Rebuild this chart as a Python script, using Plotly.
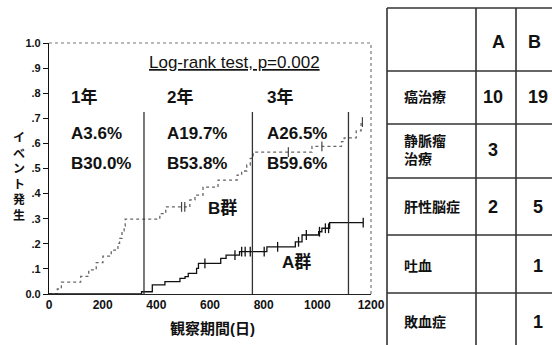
import numpy as np
import plotly.graph_objects as go

# ---- Kaplan-Meier style cumulative event curves (days, cumulative incidence) ----
b_times = [0, 31, 46, 118, 148, 176, 201, 232, 257, 263, 272, 280, 284, 413, 435,
           525, 544, 574, 630, 701, 718, 737, 750, 761, 980, 1090, 1100, 1145, 1163]
b_cum = [0, .02, .047, .07, .096, .125, .151, .175, .202, .222, .252, .271, .298, .32, .347,
         .375, .394, .426, .454, .474, .49, .514, .54, .565, .588, .607, .622, .65, .685]
b_end = 1168
b_censor = [494, 506, 892, 1017, 1168]

a_times = [0, 345, 385, 432, 488, 507, 519, 550, 557, 640, 660, 710, 812, 918, 943, 1005, 1017, 1046]
a_cum = [0, .009, .036, .049, .062, .069, .082, .102, .122, .142, .155, .169, .188, .208, .235, .248, .262, .284]
a_end = 1171
a_censor = [581, 693, 718, 731, 750, 802, 852, 930, 959, 1008, 1030, 1042, 1171]

# year cut-offs and per-year cumulative rates
year_lines = [354, 758, 1116]
year_labels = ["1年", "2年", "3年"]
rate_a = ["A3.6%", "A19.7%", "A26.5%"]
rate_b = ["B30.0%", "B53.8%", "B59.6%"]

x_ticks = [0, 200, 400, 600, 800, 1000, 1200]
y_ticks = [0, .1, .2, .3, .4, .5, .6, .7, .8, .9, 1.0]
y_ticktext = ["0.0", ".1", ".2", ".3", ".4", ".5", ".6", ".7", ".8", ".9", "1.0"]

# ---- event table ----
tbl_rows = ["癌治療", "静脈瘤<br>治療", "肝性脳症", "吐血", "敗血症"]
tbl_a = [10, 3, 2, None, None]
tbl_b = [19, None, 5, 1, 1]

W, H = 552, 345
FONT = "Liberation Sans, Arial, Noto Sans CJK JP, sans-serif"


def step_at(times, cum, t):
    i = int(np.searchsorted(times, t, side="right")) - 1
    return cum[i]


def px(x):
    return x / W


def py(y):
    return 1 - y / H


def paper_text(x, y, text, font, xanchor="center", align="center"):
    return dict(x=px(x), y=py(y), xref="paper", yref="paper", text=text, showarrow=False,
                xanchor=xanchor, yanchor="middle", align=align, font=font)


fig = go.Figure()

# group B: grey dotted step line
fig.add_trace(go.Scatter(
    x=b_times + [b_end], y=b_cum + [b_cum[-1]], mode="lines", line_shape="hv",
    line=dict(color="#666", width=1.3, dash="dot"), showlegend=False, hoverinfo="skip"))
fig.add_trace(go.Scatter(
    x=b_censor, y=[step_at(b_times, b_cum, t) for t in b_censor], mode="markers",
    marker=dict(symbol="line-ns-open", size=7, color="#444", line=dict(color="#444", width=1.2)),
    showlegend=False, hoverinfo="skip"))

# group A: black solid step line
fig.add_trace(go.Scatter(
    x=a_times + [a_end], y=a_cum + [a_cum[-1]], mode="lines", line_shape="hv",
    line=dict(color="#111", width=1.3), showlegend=False, hoverinfo="skip"))
fig.add_trace(go.Scatter(
    x=a_censor, y=[step_at(a_times, a_cum, t) for t in a_censor], mode="markers",
    marker=dict(symbol="line-ns-open", size=7, color="#111", line=dict(color="#111", width=1.3)),
    showlegend=False, hoverinfo="skip"))

shapes = []
# year cut-off lines
for xv in year_lines:
    shapes.append(dict(type="line", xref="x", yref="y", x0=xv, x1=xv, y0=0, y1=0.725,
                       line=dict(color="#333", width=1.3)))
# dotted top and right frame
shapes.append(dict(type="line", xref="x domain", yref="y domain", x0=0, x1=1, y0=1, y1=1,
                   line=dict(color="#777", width=1, dash="dot")))
shapes.append(dict(type="line", xref="x domain", yref="y domain", x0=1, x1=1, y0=0, y1=1,
                   line=dict(color="#777", width=1.2, dash="dot")))

# table grid (pixel layout converted to paper units)
col_edges = [387, 476, 516]
row_edges = [8, 71, 124, 178, 235, 293]
for cx in col_edges:
    shapes.append(dict(type="line", xref="paper", yref="paper", x0=px(cx), x1=px(cx),
                       y0=py(row_edges[0]), y1=0, line=dict(color="#333", width=1.6)))
for ry in row_edges:
    shapes.append(dict(type="line", xref="paper", yref="paper", x0=px(col_edges[0]), x1=1,
                       y0=py(ry), y1=py(ry), line=dict(color="#333", width=1.6)))

ann = []
big = dict(family=FONT, size=17, color="#111", weight="bold")
for i in range(3):
    x0 = [75, 432, 805][i]
    ann.append(dict(x=x0, y=0.785, xref="x", yref="y", text=year_labels[i], showarrow=False,
                    xanchor="left", yanchor="middle", font=big))
    ann.append(dict(x=x0, y=0.641, xref="x", yref="y", text=rate_a[i], showarrow=False,
                    xanchor="left", yanchor="middle", font=big))
    ann.append(dict(x=x0, y=0.518, xref="x", yref="y", text=rate_b[i], showarrow=False,
                    xanchor="left", yanchor="middle", font=big))

ann.append(dict(x=690, y=0.924, xref="x", yref="y", text="<u>Log-rank test, p=0.002</u>",
                showarrow=False, xanchor="center", yanchor="middle",
                font=dict(family=FONT, size=17, color="#111")))
ann.append(dict(x=645, y=0.343, xref="x", yref="y", text="B群", showarrow=False,
                xanchor="center", yanchor="middle", font=big))
ann.append(dict(x=924, y=0.127, xref="x", yref="y", text="A群", showarrow=False,
                xanchor="center", yanchor="middle", font=big))

# axis titles
ann.append(paper_text(212, 328, "観察期間(日)",
                      dict(family=FONT, size=15, color="#111", weight="bold")))
# vertical (stacked) y-axis title
ann.append(paper_text(19, 177, "<br>".join("イベント発生"),
                      dict(family=FONT, size=12, color="#111", weight="bold")))

# table text
tf = dict(family=FONT, size=18, color="#111", weight="bold")
lf = dict(family=FONT, size=14, color="#111", weight="bold")
row_y = [97, 150, 207, 266, 322]
ann.append(paper_text(498, 42, "A", tf))
ann.append(paper_text(534, 42, "B", tf))
for r, label in enumerate(tbl_rows):
    ann.append(paper_text(402, row_y[r], label, lf, xanchor="left", align="left"))
    if tbl_a[r] is not None:
        ann.append(paper_text(493, row_y[r], str(tbl_a[r]), tf))
    if tbl_b[r] is not None:
        ann.append(paper_text(538, row_y[r], str(tbl_b[r]), tf))

fig.update_layout(
    template="none",
    width=W, height=H,
    margin=dict(l=0, r=0, t=0, b=0),
    paper_bgcolor="white", plot_bgcolor="white",
    showlegend=False,
    shapes=shapes,
    annotations=ann,
    xaxis=dict(domain=[px(49), px(371)], range=[0, 1200], tickvals=x_ticks,
               showgrid=False, zeroline=False, showline=True, linecolor="#222", linewidth=1,
               ticks="", automargin=False,
               tickfont=dict(family=FONT, size=12, color="#111", weight="bold")),
    yaxis=dict(domain=[py(294), py(43)], range=[0, 1.0], tickvals=y_ticks, ticktext=y_ticktext,
               showgrid=False, zeroline=False, showline=True, linecolor="#111", linewidth=1.2,
               ticks="outside", ticklen=5, tickcolor="#111", automargin=False,
               tickfont=dict(family=FONT, size=11, color="#111", weight="bold")),
)

fig.write_html("out.html", config={"displayModeBar": False})
